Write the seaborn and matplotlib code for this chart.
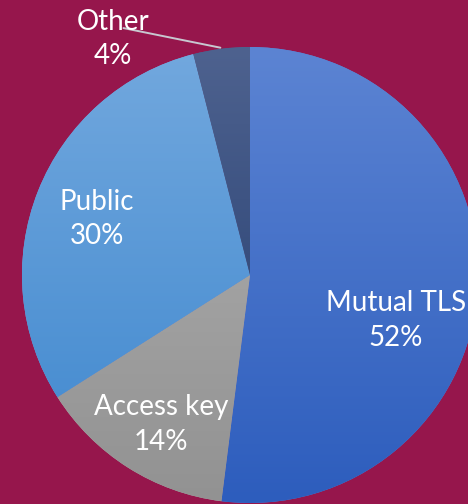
import numpy as np
import seaborn as sns
import matplotlib.pyplot as plt
from matplotlib.colors import LinearSegmentedColormap

# Data
categories = ['Mutual TLS', 'Access key', 'Public', 'Other']
shares = [52, 14, 30, 4]

# top / bottom colours of each slice gradient
top_colors = ['#5C84D3', '#B2B2B2', '#72A8DE', '#4E628F']
bottom_colors = ['#2D5DBD', '#929292', '#3E87CE', '#1E386B']

bg = '#96164C'

sns.set_theme(style='white')
plt.rcParams['font.family'] = ['Lato', 'DejaVu Sans']

fig = plt.figure(figsize=(4.68, 5.04), dpi=100)
fig.patch.set_facecolor(bg)
ax = fig.add_axes([0, 0, 1, 1])
ax.set_facecolor(bg)

wedges, _ = ax.pie(shares, startangle=90, counterclock=False,
                   colors=top_colors, radius=1,
                   wedgeprops=dict(linewidth=0, edgecolor='none'))

# vertical gradient inside each slice
grad = np.linspace(0, 1, 256).reshape(-1, 1)
for w, c1, c2 in zip(wedges, top_colors, bottom_colors):
    cmap = LinearSegmentedColormap.from_list('g', [c1, c2])
    im = ax.imshow(grad, cmap=cmap, extent=(-1, 1, -1, 1), origin='upper',
                   aspect='auto', zorder=w.get_zorder() + 0.1)
    im.set_clip_path(w)

# label positions (relative to pie, radius = 1)
label_pos = {
    'Mutual TLS': (0.64, -0.20),
    'Access key': (-0.39, -0.655),
    'Public': (-0.67, 0.245),
    'Other': (-0.60, 1.035),
}
for cat, val in zip(categories, shares):
    x, y = label_pos[cat]
    ax.text(x, y, f'{cat}\n{val}%', color='white', fontsize=20,
            ha='center', va='center', linespacing=1.4, zorder=10)

# leader line for the small slice
ax.plot([-0.555, -0.13], [1.083, 0.997], color='#C8C8D0', lw=1.4, zorder=9)

ax.set_xlim(-250 / 228, 218 / 228)
ax.set_ylim(-229 / 228, 275 / 228)
ax.set_aspect('auto')
ax.axis('off')

fig.savefig('out.png', dpi=100, facecolor=bg)
